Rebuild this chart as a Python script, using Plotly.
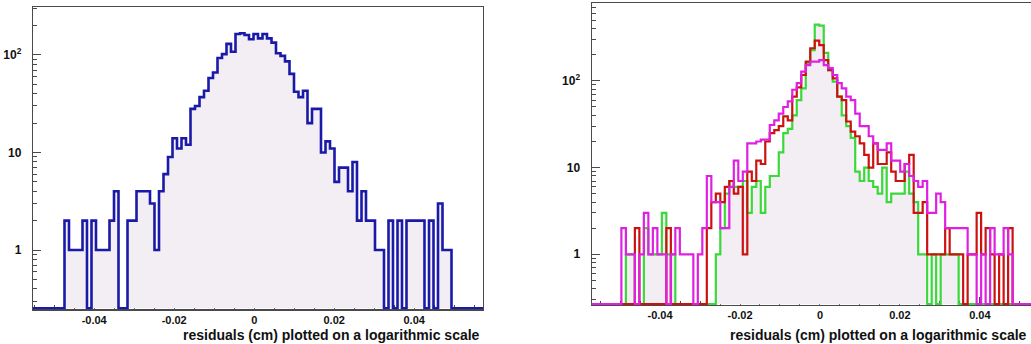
import numpy as np
import plotly.graph_objects as go

# ---------------- data ----------------
bin_lo = -0.05755
bin_width = 0.001125

# left panel: single residual histogram (counts per bin)
left_counts = [0, 0,
    0, 0, 0, 0, 0, 0, 0, 2, 1, 1,
    1, 2, 0, 2, 1, 1, 1, 2, 4, 0,
    0, 2, 2, 4, 4, 4, 3, 1, 4, 6,
    9, 14, 11, 14, 12, 28, 30, 37, 43, 58,
    66, 93, 102, 130, 108, 164, 167, 160, 145, 164,
    148, 164, 148, 134, 104, 98, 86, 64, 42, 37,
    43, 20, 28, 28, 10, 13, 11, 5, 7, 7,
    4, 8, 2, 4, 2, 2, 1, 1, 0, 2,
    0, 2, 0, 2, 2, 2, 2, 0, 2, 0,
    3, 1, 1, 0, 0, 0, 0, 0, 0, 0]

# right panel: three residual histograms
green_counts = [0, 0,
    0, 0, 0, 0, 0, 0, 1, 1, 0, 0,
    2, 1, 1, 1, 3, 1, 1, 0, 0, 0,
    0, 0, 0, 0, 0, 0, 1, 2, 5, 7,
    6, 6, 7, 3, 6, 7, 3, 6, 8, 8,
    15, 25, 28, 40, 60, 82, 160, 227, 445, 435,
    211, 133, 98, 66, 40, 30, 22, 9, 7, 10,
    7, 6, 5, 10, 4, 5, 5, 5, 9, 5,
    4, 1, 1, 0, 1, 0, 1, 1, 1, 1,
    0, 0, 0, 0, 0, 0, 0, 0, 0, 0,
    0, 0, 0, 0, 0, 0, 0, 0, 0, 0]

red_counts = [0, 0,
    0, 0, 0, 0, 0, 0, 0, 0, 2, 0,
    0, 0, 0, 0, 0, 2, 0, 0, 0, 0,
    0, 0, 0, 0, 2, 4, 5, 4, 6, 7,
    5, 6, 1, 9, 7, 12, 11, 20, 25, 27,
    30, 39, 35, 66, 84, 117, 167, 238, 291, 259,
    174, 133, 107, 66, 60, 34, 26, 23, 19, 14,
    10, 19, 11, 11, 15, 9, 7, 7, 11, 14,
    3, 3, 4, 1, 1, 1, 1, 2, 1, 1,
    1, 0, 1, 1, 3, 1, 2, 1, 0, 1,
    0, 2, 0, 0, 0, 0, 0, 0, 0, 0]

magenta_counts = [0, 0,
    0, 0, 0, 0, 0, 2, 1, 1, 0, 1,
    3, 1, 2, 1, 1, 0, 1, 2, 1, 1,
    1, 0, 1, 2, 8, 4, 4, 2, 2, 6,
    12, 7, 9, 19, 19, 20, 21, 21, 31, 35,
    42, 50, 58, 79, 94, 128, 152, 167, 167, 174,
    152, 140, 117, 94, 82, 66, 60, 42, 30, 30,
    23, 19, 16, 16, 19, 12, 12, 9, 11, 8,
    7, 6, 7, 3, 3, 5, 4, 2, 2, 2,
    2, 2, 1, 1, 0, 1, 0, 2, 1, 1,
    2, 1, 0, 0, 0, 0, 0, 0, 0, 0]

x_tickvals = [-0.04, -0.02, 0, 0.02, 0.04]
x_ticktext = ["-0.04", "-0.02", "0", "0.02", "0.04"]
y_tickvals = [1, 10, 100]
y_ticktext = ["1", "10", "10<sup>2</sup>"]
y_minor_vals = [0.3, 0.4, 0.5, 0.6, 0.7, 0.8, 0.9,
                2, 3, 4, 5, 6, 7, 8, 9,
                20, 30, 40, 50, 60, 70, 80, 90,
                200, 300, 400, 500, 600, 700]
axis_title = "residuals (cm) plotted on a logarithmic scale"

# ---------------- styling ----------------
W, H = 1031, 344
FONT = "Liberation Sans, Arial, sans-serif"
FILL = "#f3eef3"
BLUE = "#1a1aa8"
GREEN = "#3ad83a"
RED = "#cc1111"
MAGENTA = "#e020e0"
FRAME = "#4a4a4a"

left_xrange = [-0.0553, 0.0572]
left_yrange = [-0.608, 2.495]
right_xrange = [-0.0571, 0.0528]
right_yrange = [-0.585, 2.895]

n_bins = len(left_counts)
x_edges = bin_lo + bin_width * np.arange(n_bins + 1)


def step_y(counts, floor):
    c = np.asarray(counts, dtype=float)
    c = np.where(c > 0, c, floor)
    return np.append(c, c[-1])


fig = go.Figure()

# left panel
floor_l = 10 ** (left_yrange[0] + 0.01)
fig.add_trace(go.Scatter(x=[x_edges[0], x_edges[-1]], y=[floor_l, floor_l],
                         mode="lines", line=dict(width=0), showlegend=False,
                         hoverinfo="skip", xaxis="x", yaxis="y"))
fig.add_trace(go.Scatter(x=x_edges, y=step_y(left_counts, floor_l), mode="lines",
                         line=dict(color=BLUE, width=2.6, shape="hv"),
                         fill="tonexty", fillcolor=FILL, showlegend=False,
                         xaxis="x", yaxis="y"))

# right panel
floor_r = 10 ** (right_yrange[0] + 0.01)
fig.add_trace(go.Scatter(x=[x_edges[0], x_edges[-1]], y=[floor_r, floor_r],
                         mode="lines", line=dict(width=0), showlegend=False,
                         hoverinfo="skip", xaxis="x2", yaxis="y2"))
fig.add_trace(go.Scatter(x=x_edges, y=step_y(green_counts, floor_r), mode="lines",
                         line=dict(color=GREEN, width=2.2, shape="hv"),
                         fill="tonexty", fillcolor=FILL, showlegend=False,
                         xaxis="x2", yaxis="y2"))
fig.add_trace(go.Scatter(x=x_edges, y=step_y(red_counts, floor_r), mode="lines",
                         line=dict(color=RED, width=2.2, shape="hv"),
                         showlegend=False, xaxis="x2", yaxis="y2"))
fig.add_trace(go.Scatter(x=x_edges, y=step_y(magenta_counts, floor_r), mode="lines",
                         line=dict(color=MAGENTA, width=2.2, shape="hv"),
                         showlegend=False, xaxis="x2", yaxis="y2"))

tickfont = dict(family=FONT, size=11, color="#111", weight="bold")
ytickfont = dict(family=FONT, size=12, color="#111", weight="bold")


def xaxis_style(domain, rng, anchor):
    return dict(domain=domain, range=rng, anchor=anchor, automargin=False,
                showline=True, linecolor=FRAME, linewidth=1.2, mirror=True,
                ticks="inside", ticklen=8, tickwidth=1, tickcolor=FRAME,
                tickmode="array", tickvals=x_tickvals, ticktext=x_ticktext,
                tickfont=tickfont, ticklabelstandoff=0,
                minor=dict(ticks="inside", ticklen=4, tickcolor=FRAME,
                           dtick=0.005, tick0=0, showgrid=False),
                showgrid=False, zeroline=False, layer="below traces")


def yaxis_style(domain, rng, anchor, mirror):
    return dict(type="log", domain=domain, range=rng, anchor=anchor, automargin=False,
                showline=True, linecolor=FRAME, linewidth=1.2, mirror=mirror,
                ticks="inside", ticklen=8, tickwidth=1, tickcolor=FRAME,
                tickmode="array", tickvals=y_tickvals, ticktext=y_ticktext,
                tickfont=ytickfont, ticklabelstandoff=8,
                minor=dict(ticks="inside", ticklen=4, tickcolor=FRAME,
                           tickmode="array", tickvals=y_minor_vals, showgrid=False),
                showgrid=False, zeroline=False, layer="below traces")


fig.update_layout(
    width=W, height=H,
    margin=dict(l=0, r=0, t=0, b=0, autoexpand=False),
    paper_bgcolor="white", plot_bgcolor="white",
    showlegend=False,
    xaxis=xaxis_style([33 / W, 483 / W], left_xrange, "y"),
    yaxis=yaxis_style([1 - 309.3 / H, 1 - 6.7 / H], left_yrange, "x", True),
    xaxis2=xaxis_style([591.7 / W, 1.0], right_xrange, "y2"),
    yaxis2=yaxis_style([1 - 305 / H, 1 - 3.3 / H], right_yrange, "x2", False),
    annotations=[
        dict(text=axis_title, xref="paper", yref="paper", x=482 / W, y=1 - 335 / H,
             xanchor="right", yanchor="middle", showarrow=False,
             font=dict(family=FONT, size=14, color="#111", weight="bold")),
        dict(text=axis_title, xref="paper", yref="paper", x=1029 / W, y=1 - 335 / H,
             xanchor="right", yanchor="middle", showarrow=False,
             font=dict(family=FONT, size=14, color="#111", weight="bold")),
    ],
)

fig.write_html(
    "out.html",
    config={"displayModeBar": False, "staticPlot": True},
    post_script="document.body.style.margin='0';document.body.style.overflow='hidden';",
)
